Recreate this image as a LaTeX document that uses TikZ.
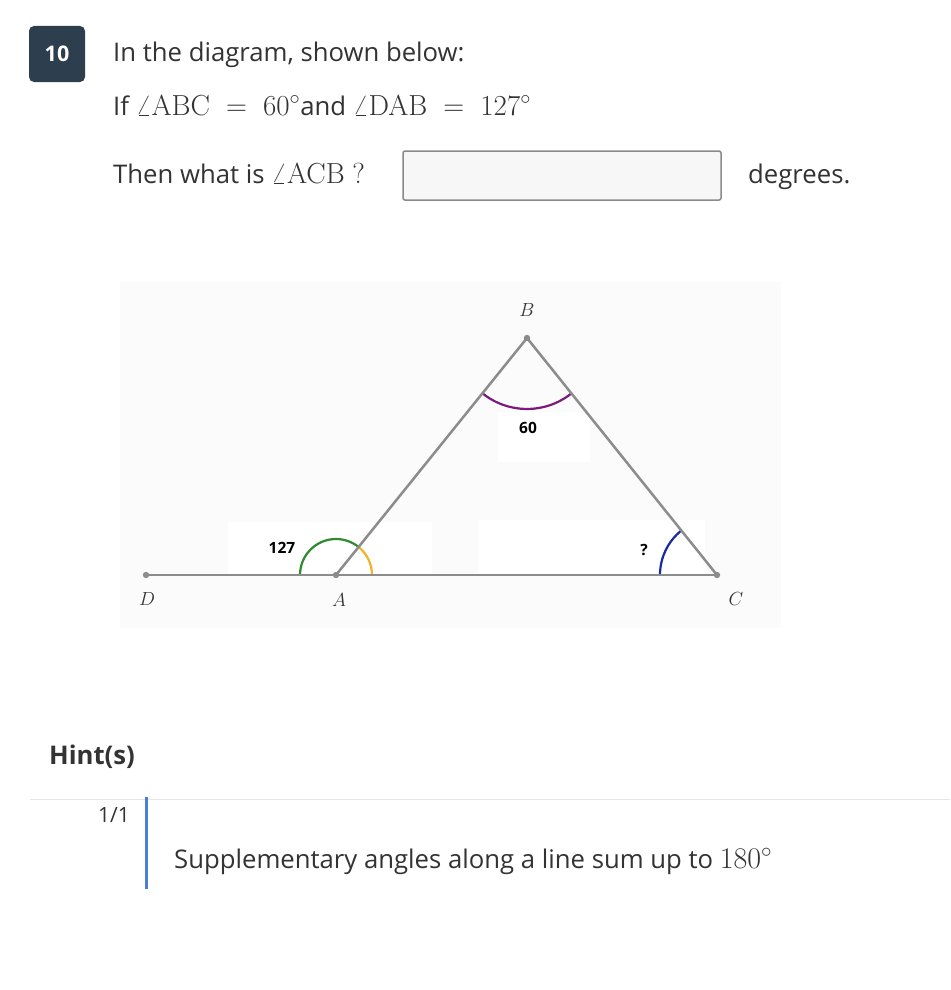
\documentclass[tikz,border=0pt]{standalone}
\usepackage{fix-cm}
\usepackage[no-math]{fontspec}
\setmainfont{Open Sans}
\newcommand\bigmath[1]{{\fontsize{29}{31}\selectfont$#1$}}
\definecolor{textgray}{HTML}{333333}
\definecolor{badge}{HTML}{2D3E4F}
\definecolor{boxgray}{HTML}{8A8A8A}
\definecolor{boxfill}{HTML}{F7F7F7}
\definecolor{linegray}{HTML}{8C8C8C}
\definecolor{sepgray}{HTML}{E6E6E6}
\definecolor{barblue}{HTML}{4A7FD5}
\definecolor{arcgreen}{HTML}{2E8B2E}
\definecolor{arcyellow}{HTML}{F0B429}
\definecolor{arcpurple}{HTML}{7A1A7A}
\definecolor{arcblue}{HTML}{1A2AA0}
\definecolor{diagbg}{HTML}{FBFBFB}
\begin{document}
\begin{tikzpicture}[x=1pt,y=-1pt,
  txt/.style={anchor=base west, inner sep=0pt, text=textgray, font=\fontsize{25.7}{30}\selectfont},
  ptlabel/.style={inner sep=0pt, text=textgray, font=\fontsize{19}{22}\selectfont},
  anglabel/.style={inner sep=0pt, text=black, font=\bfseries\fontsize{15.5}{18}\selectfont},
  seg/.style={draw=linegray, line width=2.5pt},
  dot/.style={fill=linegray},
  angarc/.style={line width=2.2pt}]
\useasboundingbox (0,0) rectangle (950,990);
\fill[white] (0,0) rectangle (950,990);

% question number badge
\node[fill=badge, rounded corners=5pt, minimum width=56pt, minimum height=56pt,
      text=white, font=\bfseries\fontsize{21.5}{24}\selectfont] (num) at (57,54) {10};

% question text
\node[txt] (l1) at (113,62) {In the diagram, shown below:};
\node[txt] (l2) at (113,115) {If \bigmath{\angle\mathrm{ABC}\;=\;60^\circ}and \bigmath{\angle\mathrm{DAB}\;=\;127^\circ}};
\node[txt] (l3) at (113,183) {Then what is \bigmath{\angle\mathrm{ACB}\ \mathrm{?}}};
\coordinate (ans1) at (403,151);
\coordinate (ans2) at (721,200);
\draw[draw=boxgray, fill=boxfill, line width=1.5pt, rounded corners=2pt] (ans1) rectangle (ans2);
\node[txt] (deg) at (748,183) {degrees.};

% diagram background
\fill[diagbg] (120,282) rectangle (781,628);
\fill[white] (228,522) rectangle (432,574);
\fill[white] (498,412) rectangle (590,462);
\fill[white] (478,520) rectangle (705,574);

% points
\coordinate (D) at (146,575);
\coordinate (A) at (336,575);
\coordinate (C) at (717,575);
\coordinate (B) at (527,338);

% angle arcs
\draw[angarc, arcgreen] (A) ++(-180:36) arc[start angle=-180, end angle=-51.14, radius=36];
\draw[angarc, arcyellow] (A) ++(0:36) arc[start angle=0, end angle=-51.14, radius=36];
\draw[angarc, arcblue] (C) ++(-180:57) arc[start angle=-180, end angle=-128.72, radius=57];
\draw[angarc, arcpurple] (B) ++(128.86:71) arc[start angle=128.86, end angle=51.28, radius=71];

% segments
\draw[seg] (D) -- (C);
\draw[seg] (A) -- (B) -- (C);
\foreach \p in {D,A,C,B} \fill[dot] (\p) circle (3.2);

% point labels
\node[ptlabel] (lD) at (147,599) {$D$};
\node[ptlabel] (lA) at (339,600) {$A$};
\node[ptlabel] (lC) at (736,599) {$C$};
\node[ptlabel] (lB) at (527,310) {$B$};

% angle labels
\node[anglabel] (a127) at (282,548) {127};
\node[anglabel] (a60) at (528,428) {60};
\node[anglabel] (aq) at (644,550) {?};

% hints
\node[txt, font=\bfseries\fontsize{25.7}{30}\selectfont] (hint) at (49,764) {Hint(s)};
\coordinate (s1) at (30,799);
\coordinate (s2) at (950,799);
\draw[sepgray, line width=1pt] (s1) -- (s2);
\node[txt, font=\fontsize{21}{24}\selectfont] (cnt) at (98,822) {1/1};
\coordinate (b1) at (146,797);
\coordinate (b2) at (146,889);
\draw[barblue, line width=3pt] (b1) -- (b2);
\node[txt] (htxt) at (174,868) {Supplementary angles along a line sum up to {\fontsize{30}{32}\selectfont$180^\circ$}};
\end{tikzpicture}
\end{document}
